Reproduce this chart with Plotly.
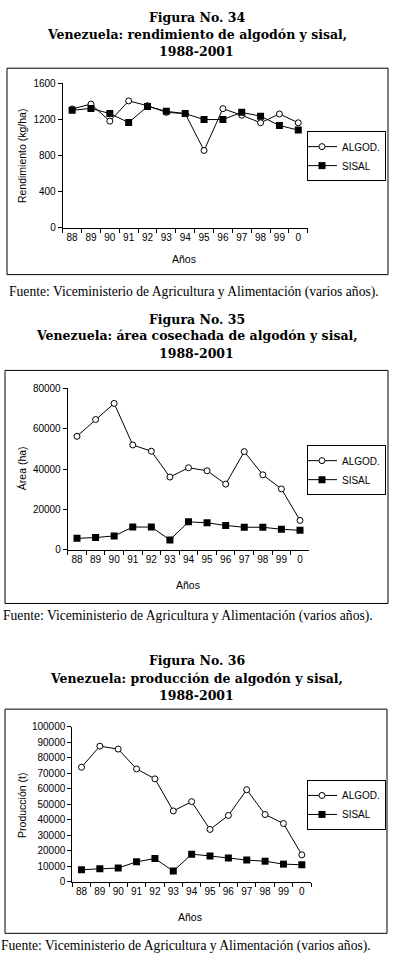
import plotly.graph_objects as go

years = ["88", "89", "90", "91", "92", "93", "94", "95", "96", "97", "98", "99", "0"]

rend_algod = [1315, 1370, 1180, 1405, 1352, 1278, 1264, 855, 1319, 1246, 1162, 1260, 1162]
rend_sisal = [1300, 1322, 1264, 1165, 1344, 1290, 1264, 1198, 1198, 1278, 1235, 1132, 1081]

area_algod = [56300, 64600, 72600, 52000, 48900, 36100, 40700, 39200, 32600, 48700, 37200, 30200, 14600]
area_sisal = [5700, 6100, 6900, 11300, 11300, 4900, 13900, 13400, 12100, 11200, 11200, 10200, 9700]

prod_algod = [74000, 87600, 85700, 72900, 66500, 45800, 51800, 33900, 42900, 59500, 43500, 37700, 17500]
prod_sisal = [7900, 8500, 9000, 13000, 15100, 7000, 17900, 16800, 15400, 14100, 13400, 11500, 11100]

W, H = 393, 965

def px(x):
    return x / W

def py(y):
    return 1 - y / H

charts = [
    dict(
        fig="Figura No. 34",
        sub="Venezuela: rendimiento de algodón y sisal,",
        title_y=(12, 29, 46),
        frame=(7, 63, 388, 272),
        xdom=(62.7, 307.7), ydom=(78.3, 224.3),
        yrange=[0, 1600], dtick=400,
        ytitle="Rendimiento (kg/ha)", ytitle_y=152,
        anos_xy=(184, 256),
        legend_xy=(386, 152),
        fuente_y=290, fuente_x=194,
        algod=rend_algod, sisal=rend_sisal,
    ),
    dict(
        fig="Figura No. 35",
        sub="Venezuela: área cosechada de algodón y sisal,",
        title_y=(317, 334, 352),
        frame=(5, 369, 388, 605),
        xdom=(67.7, 309.3), ydom=(387.3, 550.7),
        yrange=[0, 80000], dtick=20000,
        ytitle="Área (ha)", ytitle_y=468,
        anos_xy=(188, 586),
        legend_xy=(386, 470),
        fuente_y=618, fuente_x=187.5,
        algod=area_algod, sisal=area_sisal,
    ),
    dict(
        fig="Figura No. 36",
        sub="Venezuela: producción de algodón y sisal,",
        title_y=(663, 681, 698),
        frame=(5, 712, 387, 939),
        xdom=(72.3, 311), ydom=(730, 887),
        yrange=[0, 100000], dtick=10000,
        ytitle="Producción (t)", ytitle_y=810,
        anos_xy=(190, 922),
        legend_xy=(386, 809),
        fuente_y=952, fuente_x=186.3,
        algod=prod_algod, sisal=prod_sisal,
    ),
]

fig = go.Figure()
annotations = []
shapes = []
layout = {}

SERIF = "Liberation Serif"
TSERIF = "DejaVu Serif"
SANS = "Liberation Sans"

for i, c in enumerate(charts, start=1):
    xa = "x" if i == 1 else f"x{i}"
    ya = "y" if i == 1 else f"y{i}"
    lg = "legend" if i == 1 else f"legend{i}"
    fig.add_trace(go.Scatter(
        x=years, y=c["algod"], name="ALGOD.", mode="lines+markers",
        xaxis=xa, yaxis=ya, legend=lg,
        line=dict(color="black", width=1),
        marker=dict(symbol="circle", size=6, color="white", line=dict(color="black", width=1)),
    ))
    fig.add_trace(go.Scatter(
        x=years, y=c["sisal"], name="SISAL", mode="lines+markers",
        xaxis=xa, yaxis=ya, legend=lg,
        line=dict(color="black", width=1),
        marker=dict(symbol="square", size=7, color="black", line=dict(color="black", width=0)),
    ))
    xkey = "xaxis" if i == 1 else f"xaxis{i}"
    ykey = "yaxis" if i == 1 else f"yaxis{i}"
    layout[xkey] = dict(
        domain=[px(c["xdom"][0]), px(c["xdom"][1])],
        anchor=ya, type="category", categoryorder="array", categoryarray=years,
        range=[-0.5, 12.5], tickson="boundaries", tickangle=0,
        ticks="outside", ticklen=4, tickcolor="black", tickwidth=1,
        showline=True, linecolor="black", linewidth=1, showgrid=False, zeroline=False,
        tickfont=dict(family=SANS, size=10, color="black"),
        fixedrange=True,
    )
    layout[ykey] = dict(
        domain=[py(c["ydom"][1]), py(c["ydom"][0])],
        anchor=xa, range=c["yrange"], dtick=c["dtick"], tick0=0,
        ticks="outside", ticklen=4, tickcolor="black", tickwidth=1,
        showline=True, linecolor="black", linewidth=1, showgrid=False, zeroline=False,
        tickfont=dict(family=SANS, size=10, color="black"),
        tickformat="d",
        fixedrange=True,
    )
    layout[lg] = dict(
        x=px(c["legend_xy"][0]), y=py(c["legend_xy"][1]),
        xanchor="right", yanchor="middle",
        bordercolor="black", borderwidth=1, bgcolor="white",
        font=dict(family=SANS, size=10, color="black"),
        itemwidth=30, tracegroupgap=0, indentation=-6,
    )
    # titles
    for txt, yy in zip([c["fig"], c["sub"], "1988-2001"], c["title_y"]):
        annotations.append(dict(
            text=f"<b>{txt}</b>", x=0.5, y=py(yy), xref="paper", yref="paper",
            xanchor="center", yanchor="middle", showarrow=False,
            font=dict(family=TSERIF, size=12.5, color="black"),
        ))
    # frame
    x0, y0, x1, y1 = c["frame"]
    shapes.append(dict(type="rect", xref="paper", yref="paper",
                       x0=px(x0), x1=px(x1), y0=py(y1), y1=py(y0),
                       line=dict(color="black", width=1), layer="below"))
    # y title
    annotations.append(dict(
        text=c["ytitle"], x=px(22), y=py(c["ytitle_y"]), xref="paper", yref="paper",
        xanchor="center", yanchor="middle", textangle=-90, showarrow=False,
        font=dict(family=SANS, size=10.5, color="black"),
    ))
    # x title
    annotations.append(dict(
        text="Años", x=px(c["anos_xy"][0]), y=py(c["anos_xy"][1]), xref="paper", yref="paper",
        xanchor="center", yanchor="middle", showarrow=False,
        font=dict(family=SANS, size=10.5, color="black"),
    ))
    # source
    annotations.append(dict(
        text="Fuente: Viceministerio de Agricultura y Alimentación (varios años).",
        x=px(c["fuente_x"]), y=py(c["fuente_y"]), xref="paper", yref="paper",
        xanchor="center", yanchor="middle", showarrow=False,
        font=dict(family=SERIF, size=13.6, color="black"),
    ))

fig.update_layout(
    width=W, height=H, margin=dict(l=0, r=0, t=0, b=0),
    paper_bgcolor="white", plot_bgcolor="white",
    annotations=annotations, shapes=shapes, showlegend=True,
    **layout,
)

fig.write_html(
    "out.html",
    config={"displayModeBar": False},
    post_script="document.body.style.margin='0';document.body.style.overflow='hidden';",
)
